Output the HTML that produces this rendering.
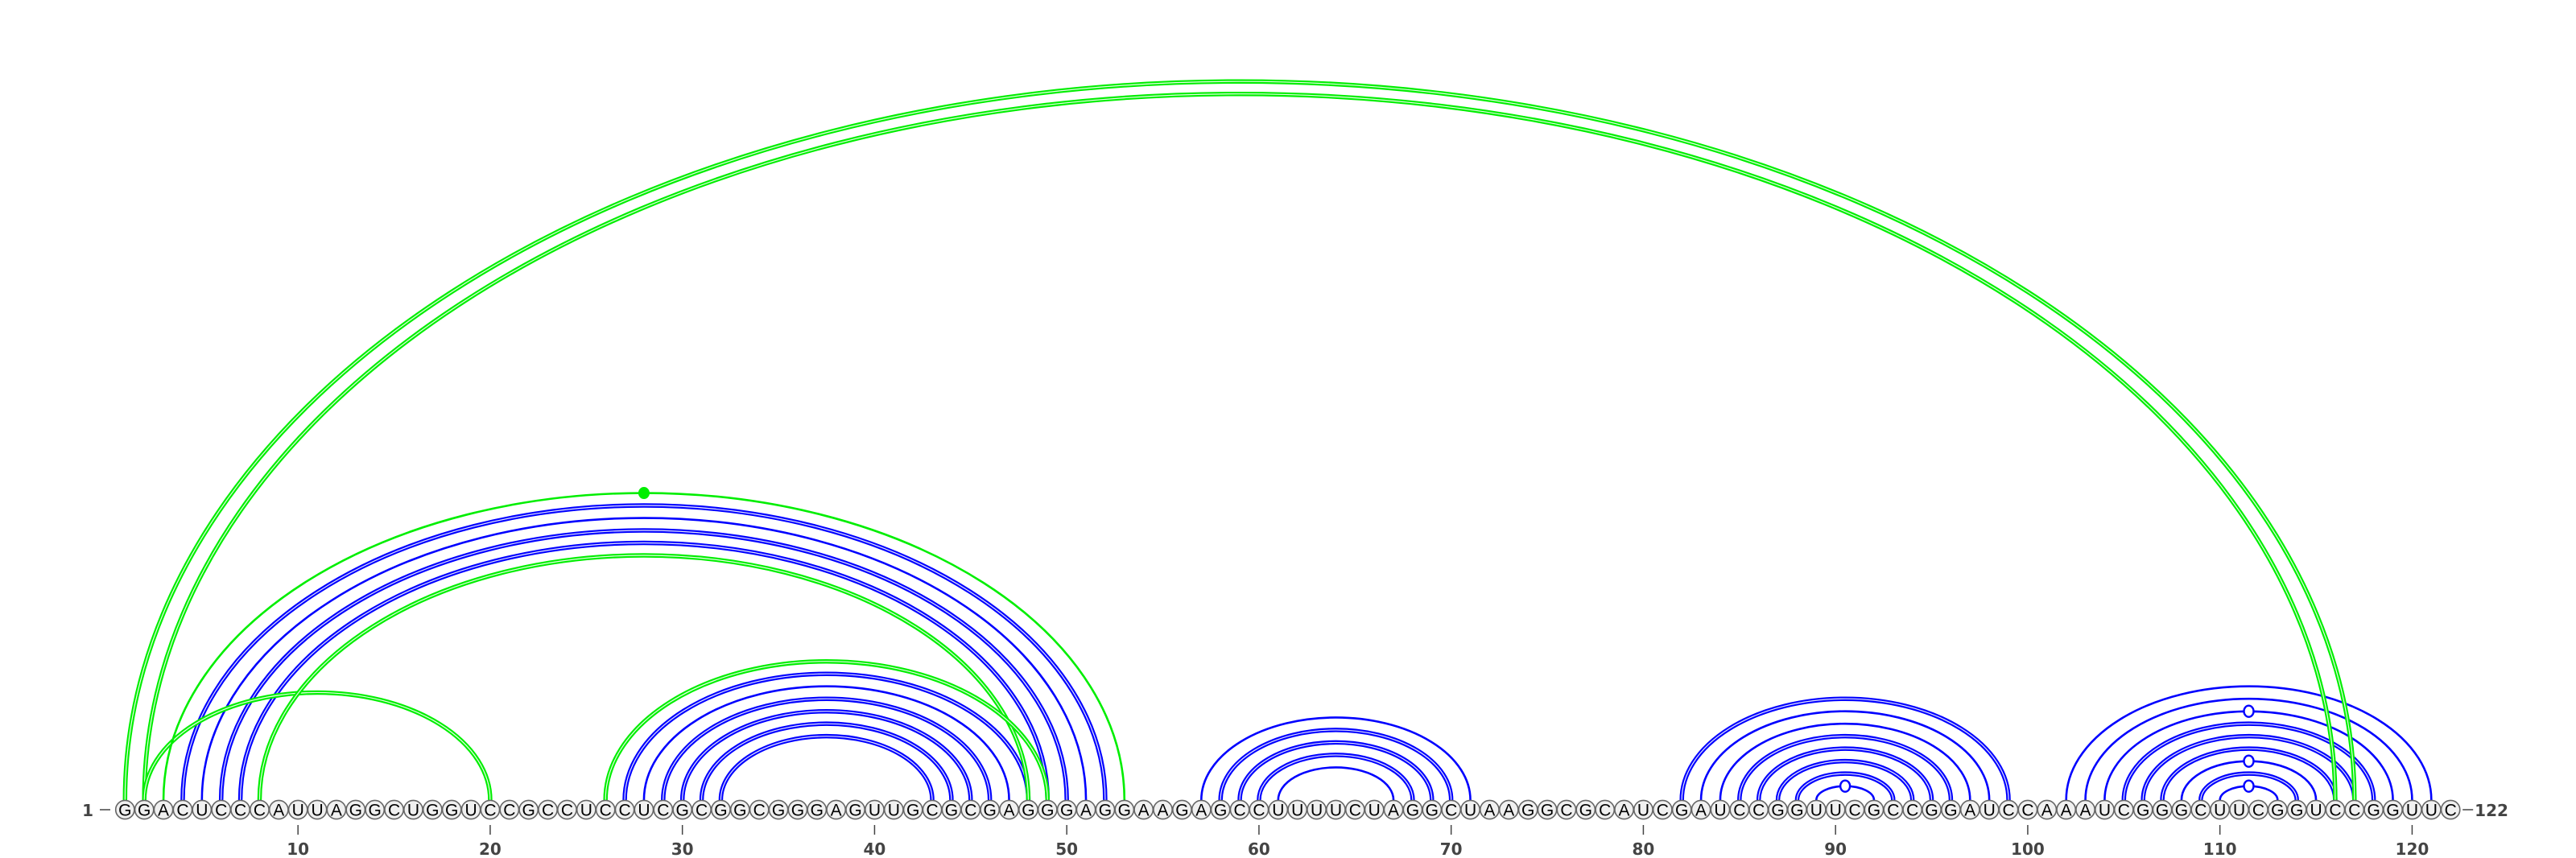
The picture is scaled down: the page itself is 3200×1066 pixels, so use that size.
<!DOCTYPE html>
<html><head><meta charset="utf-8"><style>
html,body{margin:0;padding:0;background:#fff;}
svg{display:block;}
</style></head><body>
<svg id="chart" width="3200" height="1066" viewBox="0 0 3200 1066" xmlns="http://www.w3.org/2000/svg">
<g id="arcs-blue"></g>
<g id="arcs-green"></g>
<g id="markers"></g>
<g id="bases"></g>
<g id="ticks"></g>
</svg>
<script>
const sequence = "GGACUCCCAUUAGGCUGGUCCGCCUCCUCGCGGCGGGAGUUGCGCGAGGGAGGAAGAGCCUUUUCUAGGCUAAGGCGCAUCGAUCCGGUUCGCCGGAUCCAAAUCGGGCUUCGGUCCGGUUC";
const bluePairs = [
  [4,52,2],[5,51,1],[6,50,2],[7,49,2],
  [27,48,2],[28,47,1],[29,46,2],[30,45,2],[31,44,2],[32,43,2],
  [57,71,1],[58,70,2],[59,69,2],[60,68,2],[61,67,1],
  [82,99,2],[83,98,1],[84,97,1],[85,96,2],[86,95,2],[87,94,2],[88,93,2],[89,92,1],
  [102,121,1],[103,120,1],[104,119,1],[105,118,2],[106,117,2],[107,116,2],[108,115,1],[109,114,2],[110,113,1]
];
const greenPairs = [
  [1,117,2],[2,116,2],[2,20,2],[3,53,1],[8,48,2],[26,49,2]
];
const openMarkers = [[89,92],[104,119],[108,115],[110,113]];
const filledMarkers = [[3,53]];
const tickValues = [10,20,30,40,50,60,70,80,90,100,110,120];

const NS = "http://www.w3.org/2000/svg";
const X0 = 155.3, DX = 23.875, BASE = 994, CY = 1006;
function xOf(i){ return X0 + (i-1)*DX; }
function ry(rx){ return 0.649*rx - 5.9; }
function mk(tag, attrs, parent){
  const e = document.createElementNS(NS, tag);
  for (const k in attrs) e.setAttribute(k, attrs[k]);
  parent.appendChild(e); return e;
}
function arcPath(i,j){
  const x1 = xOf(i), x2 = xOf(j), rx = (x2-x1)/2, r2 = ry(rx);
  return `M${x1},${BASE} A${rx},${r2} 0 0 1 ${x2},${BASE}`;
}
function drawArcs(pairs, color, gid){
  const g = document.getElementById(gid);
  pairs.forEach(p => {
    const d = arcPath(p[0], p[1]);
    if (p[2] === 2) {
      const a = mk('path', {d, fill:'none', stroke:color, 'stroke-width':5.5}, g);
      
      
      const w = mk('path', {d, fill:'none', stroke:'#fff', 'stroke-width':1.2, opacity:0.9}, g);
      
      
    } else {
      const a = mk('path', {d, fill:'none', stroke:color, 'stroke-width':2.6}, g);
      
      
    }
  });
}
drawArcs(bluePairs, '#0000ff', 'arcs-blue');
drawArcs(greenPairs, '#00ee00', 'arcs-green');

const mg = document.getElementById('markers');
openMarkers.forEach(p => {
  const rx = (xOf(p[1])-xOf(p[0]))/2;
  const c = mk('ellipse', {cx: (xOf(p[0])+xOf(p[1]))/2, cy: BASE-ry(rx), rx:6, ry:7, fill:'#fff', stroke:'#0000ff', 'stroke-width':2.4}, mg);
  
  
});
filledMarkers.forEach(p => {
  const rx = (xOf(p[1])-xOf(p[0]))/2;
  const c = mk('ellipse', {cx: (xOf(p[0])+xOf(p[1]))/2, cy: BASE-ry(rx), rx:7, ry:7.5, fill:'#00ee00'}, mg);
  
  
});

const bg = document.getElementById('bases');
for (let i = 1; i <= sequence.length; i++) {
  const c = mk('circle', {cx:xOf(i), cy:CY, r:11.6, fill:'#f0f0f0', stroke:'#666', 'stroke-width':1.6}, bg);
  
  
  const t = mk('text', {x:xOf(i), y:CY+7.5, 'text-anchor':'middle', 'font-family':'Liberation Sans, DejaVu Sans, sans-serif', 'font-size':21, fill:'#000'}, bg);
  t.textContent = sequence[i-1];
  
  
}

const tg = document.getElementById('ticks');
tickValues.forEach(v => {
  const l = mk('line', {x1:xOf(v), x2:xOf(v), y1:1025, y2:1037, stroke:'#444', 'stroke-width':1.5}, tg);
  
  
  const t = mk('text', {x:xOf(v), y:1062, 'text-anchor':'middle', 'font-family':'DejaVu Sans, Liberation Sans, sans-serif', 'font-size':20, 'font-weight':'bold', fill:'#444'}, tg);
  t.textContent = v;
  
  
});
const s = mk('text', {x:116, y:1014, 'text-anchor':'end', 'font-family':'DejaVu Sans, Liberation Sans, sans-serif', 'font-size':20, 'font-weight':'bold', fill:'#444'}, tg);
s.textContent = '1';


const sl = mk('line', {x1:124, x2:137, y1:1006, y2:1006, stroke:'#444', 'stroke-width':1.5}, tg);


const el = mk('line', {x1:xOf(122)+15, x2:xOf(122)+28, y1:1006, y2:1006, stroke:'#444', 'stroke-width':1.5}, tg);


const e = mk('text', {x:xOf(122)+30, y:1014, 'text-anchor':'start', 'font-family':'DejaVu Sans, Liberation Sans, sans-serif', 'font-size':20, 'font-weight':'bold', fill:'#444'}, tg);
e.textContent = '122';


</script>
</body></html>
